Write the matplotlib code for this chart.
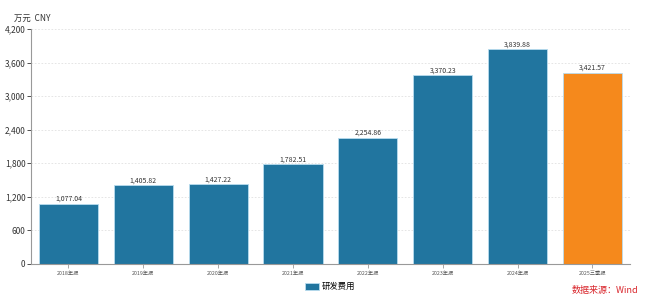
import matplotlib
matplotlib.use("Agg")
import matplotlib.pyplot as plt
from matplotlib.ticker import FuncFormatter

plt.rcParams['font.family'] = ['Noto Sans CJK SC', 'DejaVu Sans']

categories = ["2018年报", "2019年报", "2020年报", "2021年报", "2022年报", "2023年报", "2024年报", "2025三季报"]
values = [1077.04, 1405.82, 1427.22, 1782.51, 2254.86, 3370.23, 3839.88, 3421.57]
colors = ["#21759f"] * 7 + ["#f5891c"]
series_name = "研发费用"
y_ticks = [0, 600, 1200, 1800, 2400, 3000, 3600, 4200]

fig = plt.figure(figsize=(6.5, 3.04), dpi=100)
ax = fig.add_axes([0.0477, 0.1316, 0.9213, 0.773])

x = list(range(len(categories)))
bars = ax.bar(x, values, width=0.79, color=colors, edgecolor="#b8dcef", linewidth=0.6, label=series_name)
for xi, v in zip(x, values):
    ax.text(xi, v + 15, f"{v:,.2f}", ha="center", va="bottom", fontsize=5, color="#333333")

ax.set_xlim(-0.5, len(categories) - 0.5)
ax.set_ylim(0, 4200)
ax.set_yticks(y_ticks)
ax.yaxis.set_major_formatter(FuncFormatter(lambda v, p: f"{int(v):,}"))
ax.set_xticks(x)
ax.set_xticklabels(categories, fontsize=3.8, color="#555555")
ax.tick_params(axis="y", labelsize=6, colors="#333333", length=3, width=0.6, pad=1)
ax.tick_params(axis="x", length=3, width=0.6, colors="#999999", pad=2)
for lbl in ax.get_xticklabels():
    lbl.set_color("#555555")
for lbl in ax.get_yticklabels():
    lbl.set_color("#333333")
ax.yaxis.grid(True, linestyle=(0, (2, 2)), color="#e0e0e0", linewidth=0.6)
ax.set_axisbelow(True)
for s in ["top", "right"]:
    ax.spines[s].set_visible(False)
ax.spines["left"].set_color("#999999")
ax.spines["bottom"].set_color("#999999")
ax.spines["left"].set_linewidth(0.8)
ax.spines["bottom"].set_linewidth(0.8)

fig.text(0.05, 0.925, "万元  CNY", fontsize=6, color="#333333", ha="center", va="bottom")

leg = ax.legend(handles=[bars.patches[0]], labels=[series_name], loc="upper center",
                bbox_to_anchor=(0.5, -0.045), frameon=False, fontsize=6,
                handlelength=1.6, handleheight=0.9, handletextpad=0.4)

fig.text(0.982, 0.03, "数据来源：Wind", fontsize=6.5, color="#d9262c", ha="right", va="bottom")

fig.savefig("out.png", dpi=100)
